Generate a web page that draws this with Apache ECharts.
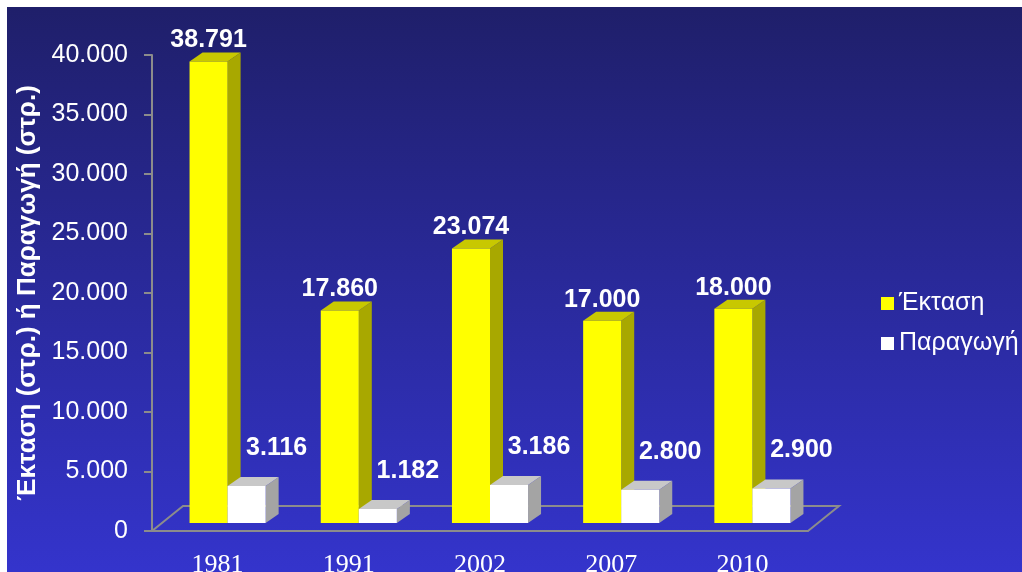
<!DOCTYPE html>
<html>
<head>
<meta charset="utf-8">
<script src="https://cdn.jsdelivr.net/npm/echarts@6/dist/echarts.min.js"></script>
<style>
    html, body { margin: 0; padding: 0; background: #ffffff; }
    #chart { position: absolute; left: 7px; top: 7px; width: 1015px; height: 565px; }
</style>
</head>
<body>
<div id="chart"></div>
<script>
// data
var years = ['1981', '1991', '2002', '2007', '2010'];
var ektasi = [38791, 17860, 23074, 17000, 18000];
var paragogi = [3116, 1182, 3186, 2800, 2900];
var seriesNames = ['Έκταση', 'Παραγωγή'];
var yAxisName = 'Έκταση (στρ.) ή Παραγωγή (στρ.)';
var yMin = 0, yMax = 40000, yStep = 5000;

// 40000 -> "40.000"
function fmt(v) {
    return String(v).replace(/\B(?=(\d{3})+(?!\d))/g, '.');
}

var DEPTH = [13, -9];   // depth of each box
var SHIFT = [10, -8];   // boxes stand a bit back on the floor
var FLOOR = [31, -25];  // depth of the floor

// side: -1 left of category centre, 1 right of it
function boxRenderer(side, faces, labelOffset) {
    return function (params, api) {
        var idx = api.value(0);
        var val = api.value(1);
        var base = api.coord([idx, 0]);
        var top = api.coord([idx, val]);
        var w = api.size([1, 0])[0] * 0.29;
        var x0 = base[0] + SHIFT[0] + (side < 0 ? -w : 0);
        var x1 = x0 + w;
        var yb = base[1] + SHIFT[1];
        var yt = top[1] + SHIFT[1];
        var dx = DEPTH[0], dy = DEPTH[1];
        return {
            type: 'group',
            children: [
                { type: 'polygon', shape: { points: [[x1, yb], [x1 + dx, yb + dy], [x1 + dx, yt + dy], [x1, yt]] }, style: { fill: faces.side } },
                { type: 'polygon', shape: { points: [[x0, yt], [x0 + dx, yt + dy], [x1 + dx, yt + dy], [x1, yt]] }, style: { fill: faces.top } },
                { type: 'rect', shape: { x: x0, y: yt, width: w, height: yb - yt }, style: { fill: faces.front } },
                {
                    type: 'text',
                    x: (x0 + x1) / 2 + labelOffset[0],
                    y: yt + labelOffset[1],
                    style: {
                        text: fmt(val), fill: '#ffffff',
                        fontSize: 25, fontWeight: 'bold', fontFamily: '"Liberation Sans", Arial',
                        align: 'center', verticalAlign: 'middle'
                    }
                }
            ]
        };
    };
}

var chart = echarts.init(document.getElementById('chart'));

var option = {
    animation: false,
    backgroundColor: new echarts.graphic.LinearGradient(0, 0, 0, 1, [
        { offset: 0, color: '#1f1f6a' },
        { offset: 1, color: '#3434cc' }
    ]),
    grid: { left: 145, right: 214, top: 48, bottom: 41, containLabel: false, outerBoundsMode: 'none' },
    legend: {
        data: seriesNames,
        orient: 'vertical',
        left: 869, top: 279,
        icon: 'rect', itemWidth: 13, itemHeight: 13, itemGap: 15,
        textStyle: { color: '#ffffff', fontSize: 25, fontFamily: '"Liberation Sans", Arial' }
    },
    xAxis: {
        type: 'category',
        data: years,
        axisLine: { lineStyle: { color: '#8c8c8c', width: 2 } },
        axisTick: { length: 8, lineStyle: { color: '#8c8c8c', width: 2 } },
        axisLabel: { color: '#ffffff', fontSize: 26, fontFamily: '"Liberation Serif", "Times New Roman"', margin: 21 },
        splitLine: { show: false }
    },
    yAxis: {
        type: 'value',
        min: yMin, max: yMax, interval: yStep,
        name: yAxisName,
        nameLocation: 'middle',
        nameGap: 108,
        nameTextStyle: { color: '#ffffff', fontSize: 26, fontWeight: 'bold', fontFamily: '"Liberation Sans", Arial' },
        axisLine: { show: true, lineStyle: { color: '#8c8c8c', width: 2 } },
        axisTick: { show: true, length: 8, lineStyle: { color: '#8c8c8c', width: 2 } },
        axisLabel: { color: '#ffffff', fontSize: 25, fontFamily: '"Liberation Sans", Arial', margin: 24, formatter: fmt },
        splitLine: { show: false }
    },
    series: [
        {
            type: 'custom',
            silent: true,
            z: 1,
            data: [[0, 0]],
            renderItem: function (params, api) {
                var cs = params.coordSys;
                var xl = cs.x, xr = cs.x + cs.width, yb = cs.y + cs.height;
                return {
                    type: 'polyline',
                    shape: { points: [[xl, yb], [xl + FLOOR[0], yb + FLOOR[1]], [xr + FLOOR[0], yb + FLOOR[1]], [xr, yb]] },
                    style: { stroke: '#8c8c8c', lineWidth: 2, fill: null }
                };
            }
        },
        {
            name: seriesNames[0],
            type: 'custom',
            z: 2,
            itemStyle: { color: '#ffff00' },
            encode: { x: 0, y: 1 },
            data: ektasi.map(function (v, i) { return [i, v]; }),
            renderItem: boxRenderer(-1, { front: '#ffff00', side: '#a8a800', top: '#c8c800' }, [0, -21])
        },
        {
            name: seriesNames[1],
            type: 'custom',
            z: 3,
            itemStyle: { color: '#ffffff' },
            encode: { x: 0, y: 1 },
            data: paragogi.map(function (v, i) { return [i, v]; }),
            renderItem: boxRenderer(1, { front: '#ffffff', side: '#a4a4a4', top: '#c8c8c8' }, [30, -38])
        }
    ]
};

chart.setOption(option);
</script>
</body>
</html>
